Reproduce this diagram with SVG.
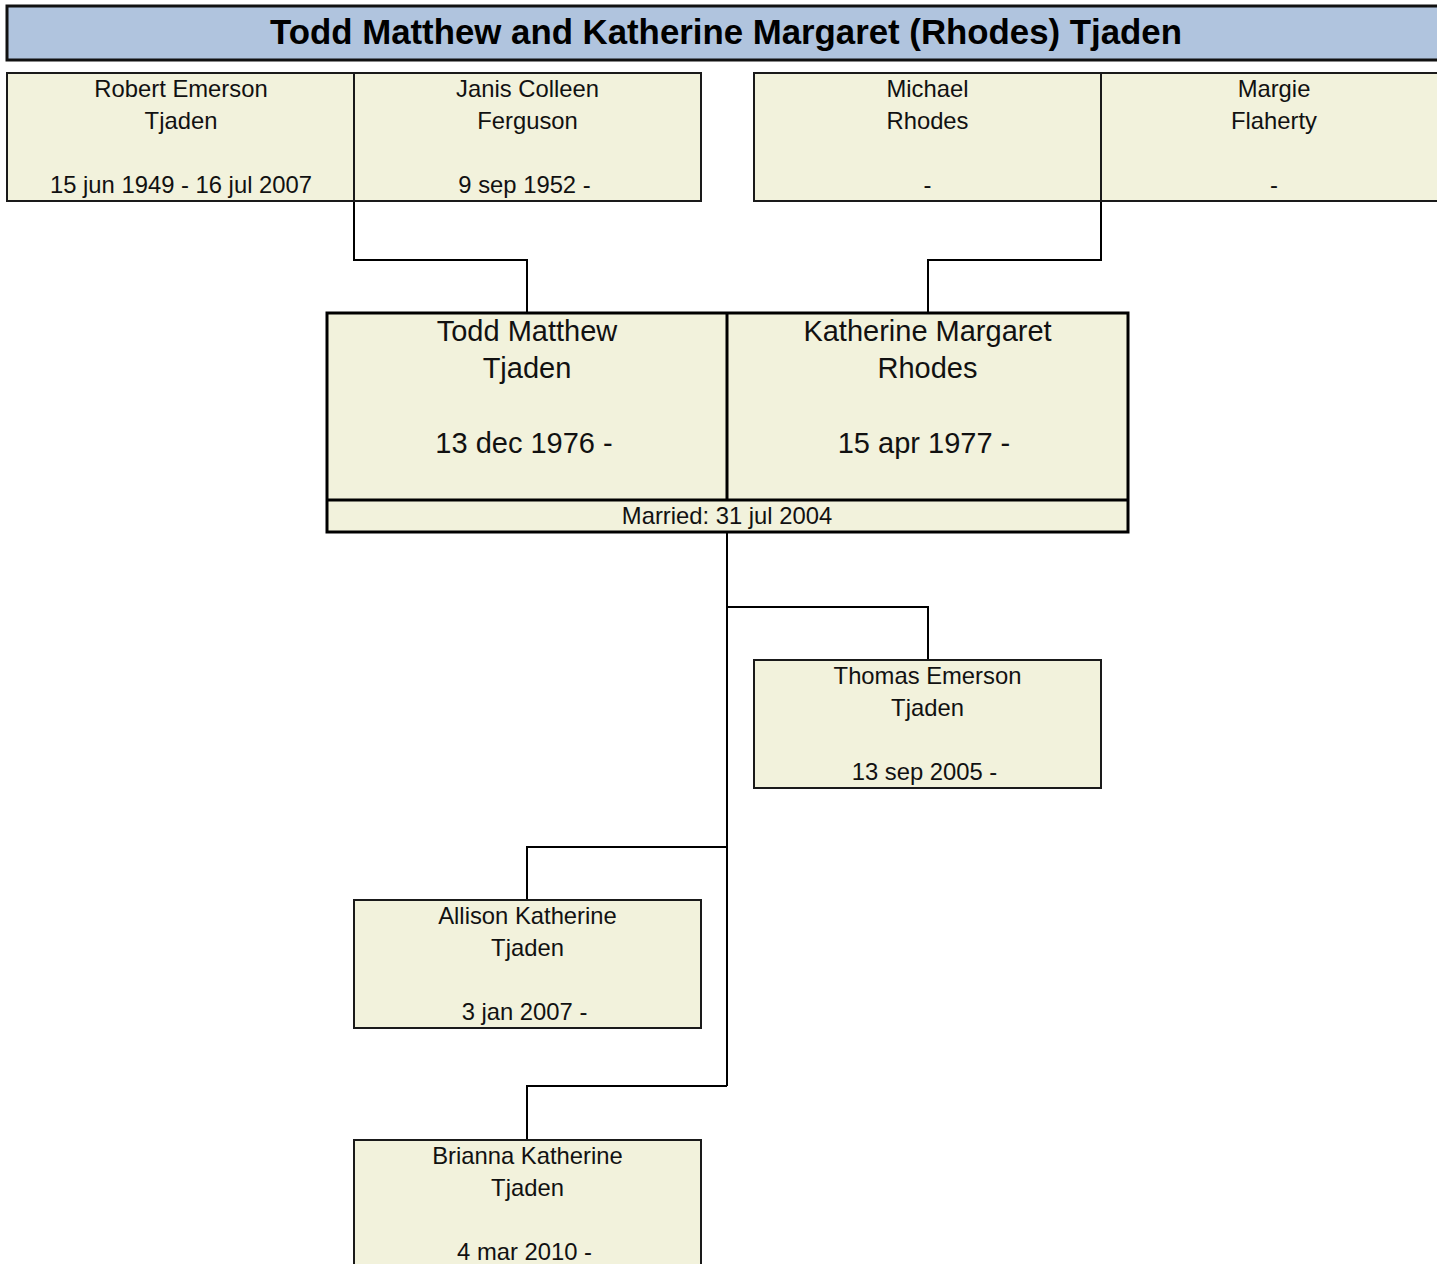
<svg xmlns="http://www.w3.org/2000/svg" width="1437" height="1264" viewBox="0 0 1437 1264">
<style>
  .box { fill: #F2F2DC; stroke: #1a1a1a; stroke-width: 2; }
  .cbox { fill: #F2F2DC; stroke: #000; stroke-width: 3; }
  .t { font-family: "Liberation Sans", Arial, sans-serif; font-size: 23.8px; fill: #111; text-anchor: middle; }
  .tb { font-family: "Liberation Sans", Arial, sans-serif; font-size: 29px; fill: #111; text-anchor: middle; }
  .title { font-family: "Liberation Sans", Arial, sans-serif; font-size: 34.8px; font-weight: bold; fill: #000; text-anchor: middle; }
  .conn { fill: none; stroke: #000; stroke-width: 2; }
</style>
<rect width="1437" height="1264" fill="#fff"/>
<g id="title">
  <rect x="7" y="6" width="1440" height="54" fill="#B0C4DE" stroke="#111" stroke-width="3"/>
  <text class="title" x="726" y="44">Todd Matthew and Katherine Margaret (Rhodes) Tjaden</text>
</g>
<g id="connectors">
  <polyline class="conn" points="354,201 354,260 527,260 527,313"/>
  <polyline class="conn" points="1101,201 1101,260 928,260 928,313"/>
  <polyline class="conn" points="727,532 727,1086"/>
  <polyline class="conn" points="727,607 928,607 928,660"/>
  <polyline class="conn" points="727,847 527,847 527,900"/>
  <polyline class="conn" points="727,1086 527,1086 527,1140"/>
</g>
<g id="robert">
  <rect class="box" x="7" y="73" width="347" height="128"/>
  <text class="t" x="181" y="97">Robert Emerson</text>
  <text class="t" x="181" y="129">Tjaden</text>
  <text class="t" x="181" y="193">15 jun 1949 - 16 jul 2007</text>
</g>
<g id="janis">
  <rect class="box" x="354" y="73" width="347" height="128"/>
  <text class="t" x="527.5" y="97">Janis Colleen</text>
  <text class="t" x="527.5" y="129">Ferguson</text>
  <text class="t" x="524.5" y="193">9 sep 1952 -</text>
</g>
<g id="michael">
  <rect class="box" x="754" y="73" width="347" height="128"/>
  <text class="t" x="927.5" y="97">Michael</text>
  <text class="t" x="927.5" y="129">Rhodes</text>
  <text class="t" x="927.5" y="193">-</text>
</g>
<g id="margie">
  <rect class="box" x="1101" y="73" width="346" height="128"/>
  <text class="t" x="1274" y="97">Margie</text>
  <text class="t" x="1274" y="129">Flaherty</text>
  <text class="t" x="1274" y="193">-</text>
</g>
<g id="couple">
  <rect class="cbox" x="327" y="313" width="801" height="219"/>
  <line x1="327" y1="500" x2="1128" y2="500" stroke="#000" stroke-width="3"/>
  <line x1="727" y1="313" x2="727" y2="500" stroke="#000" stroke-width="3"/>
  <text class="t" x="727" y="524">Married: 31 jul 2004</text>
</g>
<g id="todd">
  <text class="tb" x="527" y="341">Todd Matthew</text>
  <text class="tb" x="527" y="378">Tjaden</text>
  <text class="tb" x="524" y="453">13 dec 1976 -</text>
</g>
<g id="katherine">
  <text class="tb" x="927.5" y="341">Katherine Margaret</text>
  <text class="tb" x="927.5" y="378">Rhodes</text>
  <text class="tb" x="924" y="453">15 apr 1977 -</text>
</g>
<g id="thomas">
  <rect class="box" x="754" y="660" width="347" height="128"/>
  <text class="t" x="927.5" y="684">Thomas Emerson</text>
  <text class="t" x="927.5" y="716">Tjaden</text>
  <text class="t" x="924.5" y="780">13 sep 2005 -</text>
</g>
<g id="allison">
  <rect class="box" x="354" y="900" width="347" height="128"/>
  <text class="t" x="527.5" y="924">Allison Katherine</text>
  <text class="t" x="527.5" y="956">Tjaden</text>
  <text class="t" x="524.5" y="1020">3 jan 2007 -</text>
</g>
<g id="brianna">
  <rect class="box" x="354" y="1140" width="347" height="140"/>
  <text class="t" x="527.5" y="1164">Brianna Katherine</text>
  <text class="t" x="527.5" y="1196">Tjaden</text>
  <text class="t" x="524.5" y="1260">4 mar 2010 -</text>
</g>
</svg>
